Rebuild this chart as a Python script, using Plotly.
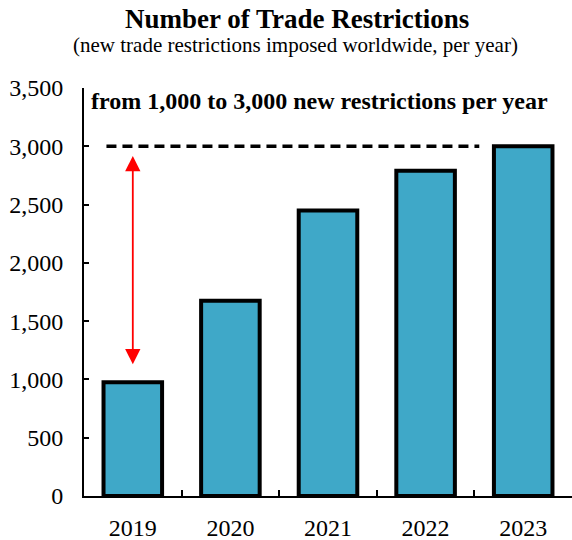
import plotly.graph_objects as go

years = ["2019", "2020", "2021", "2022", "2023"]
restrictions = [975, 1675, 2450, 2790, 3000]
y_ticks = [0, 500, 1000, 1500, 2000, 2500, 3000, 3500]
y_tick_labels = ["0", "500", "1,000", "1,500", "2,000", "2,500", "3,000", "3,500"]

title_text = "<b>Number of Trade Restrictions</b>"
subtitle_text = "(new trade restrictions imposed worldwide, per year)"
note_text = "<b>from 1,000 to 3,000 new restrictions per year</b>"

level_line = 3000
arrow_top = 2930
arrow_bottom = 1130

FONT = "Liberation Serif, Times New Roman, serif"

fig = go.Figure()
fig.add_trace(go.Bar(
    x=years, y=restrictions, width=0.6,
    marker=dict(color="#3FA8C8", line=dict(color="black", width=4)),
))

fig.add_shape(type="line", xref="x", yref="y",
              x0=-0.27, x1=3.55, y0=level_line, y1=level_line,
              line=dict(color="black", width=3.5, dash="10px,6px"))

fig.add_annotation(x=0, y=arrow_bottom, ax=0, ay=arrow_top,
                   xref="x", yref="y", axref="x", ayref="y",
                   text="", showarrow=True, arrowhead=2, arrowside="end+start",
                   arrowsize=1.7, arrowwidth=1.8, arrowcolor="#FF0000")

fig.add_annotation(xref="paper", yref="paper", x=0.4365, y=1.168,
                   xanchor="center", yanchor="middle",
                   text=title_text, showarrow=False,
                   font=dict(family=FONT, size=27, color="black"))
fig.add_annotation(xref="paper", yref="paper", x=0.433, y=1.106,
                   xanchor="center", yanchor="middle",
                   text=subtitle_text, showarrow=False,
                   font=dict(family=FONT, size=21, color="black"))
fig.add_annotation(xref="paper", yref="y", x=0.01, y=3390,
                   xanchor="left", yanchor="middle",
                   text=note_text, showarrow=False,
                   font=dict(family=FONT, size=24, color="black"))

fig.update_layout(
    width=572, height=540,
    margin=dict(l=84, r=0, t=88, b=44),
    plot_bgcolor="white", paper_bgcolor="white",
    showlegend=False,
    font=dict(family=FONT, size=24, color="black"),
    bargap=0.4,
)
fig.update_xaxes(
    range=[-0.5, 4.5], showline=True, linecolor="black", linewidth=2,
    ticks="inside", tickson="boundaries", ticklen=6, tickwidth=2, tickcolor="black",
    showgrid=False, tickfont=dict(family=FONT, size=24), ticklabelstandoff=9,
)
fig.update_yaxes(
    range=[0, 3500], tickvals=y_ticks, ticktext=y_tick_labels,
    showline=True, linecolor="black", linewidth=2,
    ticks="inside", ticklen=5, tickwidth=2, tickcolor="black",
    showgrid=False, zeroline=False, tickfont=dict(family=FONT, size=24),
    ticklabelstandoff=14,
)

fig.write_html("out.html")
